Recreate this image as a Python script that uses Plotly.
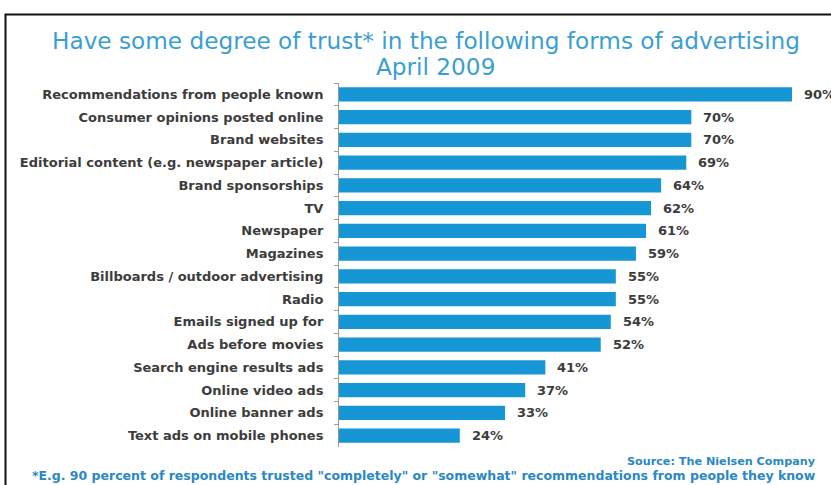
import plotly.graph_objects as go

categories = [
    "Recommendations from people known",
    "Consumer opinions posted online",
    "Brand websites",
    "Editorial content (e.g. newspaper article)",
    "Brand sponsorships",
    "TV",
    "Newspaper",
    "Magazines",
    "Billboards / outdoor advertising",
    "Radio",
    "Emails signed up for",
    "Ads before movies",
    "Search engine results ads",
    "Online video ads",
    "Online banner ads",
    "Text ads on mobile phones",
]
values = [90, 70, 70, 69, 64, 62, 61, 59, 55, 55, 54, 52, 41, 37, 33, 24]

title_line1 = "Have some degree of trust* in the following forms of advertising"
title_line2 = "April 2009"
source_text = "Source: The Nielsen Company"
footnote_text = '*E.g. 90 percent of respondents trusted "completely" or "somewhat" recommendations from people they know'

W, H = 831, 485
L, R, T, B = 339, 39, 83, 38
pw, ph = W - L - R, H - T - B

def px(x):
    return (x - L) / pw

def py(y):
    return (H - B - y) / ph

BAR = "#1696d4"
TITLE = "#3a9fd0"
TEXT = "#3c3c3c"
FOOT = "#2a88c2"
LABFONT = "DejaVu Sans"

fig = go.Figure(go.Bar(
    x=values, y=categories, orientation="h",
    marker=dict(color=BAR, line=dict(width=0)),
    width=0.62,
    hoverinfo="skip",
))

annotations = []
for c, v in zip(categories, values):
    annotations.append(dict(
        x=v, y=c, xref="x", yref="y", text=f"{v}%", showarrow=False,
        xanchor="left", xshift=10,
        font=dict(family=LABFONT, size=13, color=TEXT, weight="bold"),
    ))

annotations += [
    dict(x=px(426), y=py(41), xref="paper", yref="paper", text=title_line1,
         showarrow=False, xanchor="center", yanchor="middle",
         font=dict(family="DejaVu Sans", size=23.2, color=TITLE)),
    dict(x=px(435), y=py(67), xref="paper", yref="paper", text=title_line2,
         showarrow=False, xanchor="center", yanchor="middle",
         font=dict(family="DejaVu Sans", size=23.2, color=TITLE)),
    dict(x=px(818), y=py(461), xref="paper", yref="paper", text=source_text,
         showarrow=False, xanchor="right", yanchor="middle",
         font=dict(family=LABFONT, size=11.2, color=FOOT, weight="bold")),
    dict(x=px(818), y=py(475), xref="paper", yref="paper", text=footnote_text,
         showarrow=False, xanchor="right", yanchor="middle",
         font=dict(family=LABFONT, size=12.5, color=FOOT, weight="bold")),
]

shapes = [dict(type="rect", xref="paper", yref="paper",
               x0=px(5.5), x1=px(900), y0=py(14.5), y1=py(560),
               line=dict(color="#111111", width=2), fillcolor="rgba(0,0,0,0)")]

fig.update_layout(
    width=W, height=H,
    margin=dict(l=L, r=R, t=T, b=B, pad=0),
    paper_bgcolor="white", plot_bgcolor="white",
    showlegend=False,
    bargap=0.38,
    annotations=annotations,
    shapes=shapes,
    xaxis=dict(range=[0, 90], visible=False, fixedrange=True),
    yaxis=dict(
        autorange="reversed", showline=True, linecolor="#9a9a9a", linewidth=1,
        ticks="outside", ticklen=4, tickcolor="#9a9a9a", tickson="boundaries",
        showgrid=False, ticklabelstandoff=12,
        tickfont=dict(family=LABFONT, size=13, color=TEXT, weight="bold"),
        fixedrange=True,
    ),
)

fig.write_html("out.html")
